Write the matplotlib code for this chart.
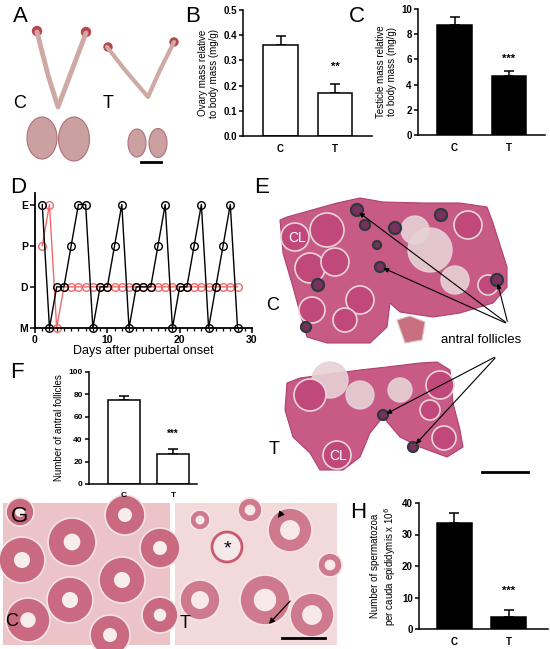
import matplotlib
matplotlib.use("Agg")
import matplotlib.pyplot as plt
from matplotlib.patches import Ellipse, Polygon, Circle

plt.rcParams["font.family"] = ["Liberation Sans", "DejaVu Sans"]

W, H = 550, 649

# ---- data ----
groups = ["C", "T"]

ovary_mean = [0.36, 0.172]
ovary_err = [0.038, 0.035]

testis_mean = [8.75, 4.7]
testis_err = [0.62, 0.36]

follicle_mean = [75, 26.5]
follicle_err = [4, 4.8]

sperm_mean = [33.5, 3.8]
sperm_err = [3.3, 2.3]

days = list(range(1, 29))
stage_labels = ["M", "D", "P", "E"]
# stage codes: 0=M, 1=D, 2=P, 3=E
cycle_control = [3, 0, 1, 1, 2, 3, 3, 0, 1, 1, 2, 3, 0, 1,
                 1, 1, 2, 3, 0, 1, 1, 2, 3, 0, 1, 2, 3, 0]
cycle_treated = [2, 3, 0] + [1] * 25


def px_axes(fig, x0, y0, x1, y1):
    """add axes from pixel box (y measured from top)"""
    return fig.add_axes([x0 / W, 1 - y1 / H, (x1 - x0) / W, (y1 - y0) / H])


def bar_panel(ax, means, errs, color, ylim, yticks, ylabel, stars, star_y,
              xlim, tick_fs=7, label_fs=7):
    x = [0, 1]
    ax.bar(x, means, width=0.64, color=color, edgecolor="black", linewidth=1.1, zorder=2)
    ax.errorbar(x, means, yerr=[[0, 0], errs], fmt="none", ecolor="black",
                elinewidth=1.1, capsize=3.6, capthick=1.1, zorder=1)
    ax.text(1, star_y, stars, ha="center", va="center", fontsize=tick_fs + 1, fontweight="bold")
    ax.set_xlim(*xlim)
    ax.set_ylim(*ylim)
    ax.set_yticks(yticks)
    ax.set_xticks(x)
    ax.set_xticklabels(groups, fontsize=tick_fs, fontweight="bold")
    for lab in ax.get_yticklabels():
        lab.set_fontsize(tick_fs)
        lab.set_fontweight("bold")
    ax.tick_params(axis="x", length=0, pad=6)
    ax.tick_params(axis="y", direction="out", length=3, width=1.1, pad=1.5)
    for s in ["top", "right"]:
        ax.spines[s].set_visible(False)
    for s in ["left", "bottom"]:
        ax.spines[s].set_linewidth(1.1)
    ax.set_ylabel(ylabel, fontsize=label_fs, labelpad=3, linespacing=1.15)
    ax.patch.set_alpha(0)


fig = plt.figure(figsize=(W / 100, H / 100), dpi=100)

# background canvas for photographic panels (pixel coordinates)
bg = fig.add_axes([0, 0, 1, 1])
bg.set_xlim(0, W)
bg.set_ylim(H, 0)
bg.set_axis_off()

# ---- panel A: gross morphology (schematic) ----
tube = "#cfa9a3"
bg.plot([37, 48, 58, 72, 86], [32, 75, 107, 70, 33], color=tube, lw=3.5, solid_capstyle="round")
bg.plot([107, 125, 148, 160, 174], [47, 70, 97, 70, 42], color=tube, lw=3, solid_capstyle="round")
for cx, cy, r in [(37, 31, 4.5), (86, 32, 4.5), (108, 47, 4), (174, 42, 4)]:
    bg.add_patch(Circle((cx, cy), r, color="#b8464e"))
for cx, cy, w, h in [(42, 138, 30, 42), (74, 139, 31, 44), (137, 143, 18, 28), (158, 143, 18, 29)]:
    bg.add_patch(Ellipse((cx, cy), w, h, facecolor="#caa0a0", edgecolor="#b0707a", lw=0.8))
bg.plot([141, 161], [162, 162], color="black", lw=2)
bg.text(20, 103, "C", fontsize=13, ha="center", va="center")
bg.text(108, 103, "T", fontsize=13, ha="center", va="center")

# ---- panel E: ovary sections (schematic) ----
ovary_c = [(280, 220), (287, 217), (337, 203), (360, 198), (383, 202), (423, 203), (460, 203),
           (487, 207), (493, 223), (507, 267), (507, 287), (493, 303), (460, 313), (433, 317),
           (400, 312), (390, 303), (387, 327), (370, 343), (327, 343), (307, 337), (300, 313),
           (293, 287), (283, 253)]
ovary_t = [(287, 383), (300, 378), (360, 370), (387, 367), (420, 363), (437, 362), (450, 370),
           (453, 403), (460, 430), (463, 447), (447, 457), (420, 447), (400, 437), (383, 417),
           (370, 433), (360, 457), (343, 470), (320, 470), (310, 453), (293, 437), (285, 410)]
bg.add_patch(Polygon(ovary_c, closed=True, facecolor="#c85a86", edgecolor="#b04070", lw=0.8))
bg.add_patch(Polygon(ovary_t, closed=True, facecolor="#c85a86", edgecolor="#b04070", lw=0.8))
bg.add_patch(Polygon([(397, 320), (410, 316), (425, 322), (422, 340), (405, 343)],
                     closed=True, facecolor="#c87080", edgecolor="#e0c0c0", lw=0.8))
pale = [(430, 250, 22), (415, 230, 14), (455, 280, 14), (330, 380, 18), (360, 395, 14), (400, 390, 12)]
for cx, cy, r in pale:
    bg.add_patch(Circle((cx, cy), r, color="#e6d2d6", alpha=0.9))
lobes = [(295, 237, 14), (327, 230, 17), (310, 268, 15), (335, 262, 14), (312, 310, 13),
         (360, 300, 14), (345, 320, 12), (468, 225, 14), (488, 285, 10), (310, 395, 16),
         (337, 455, 14), (440, 385, 14), (444, 438, 12), (430, 410, 10)]
for cx, cy, r in lobes:
    bg.add_patch(Circle((cx, cy), r, facecolor="#c0487a", edgecolor="#ead6d6", lw=1.2))
foll = [(357, 210, 6), (380, 267, 5), (497, 280, 6), (365, 225, 5), (395, 228, 6), (377, 245, 4),
        (441, 215, 6), (318, 285, 6), (306, 327, 5), (383, 415, 5), (413, 447, 5)]
for cx, cy, r in foll:
    bg.add_patch(Circle((cx, cy), r, facecolor="#7a3060", edgecolor="#2e3a3a", lw=1.6))
bg.text(297, 238, "CL", color="white", fontsize=10, ha="center", va="center")
bg.text(338, 456, "CL", color="white", fontsize=10, ha="center", va="center")
bg.text(273, 305, "C", fontsize=13, ha="center", va="center")
bg.text(274, 450, "T", fontsize=13, ha="center", va="center")
bg.text(481, 340, "antral follicles", fontsize=9.5, ha="center", va="center")
for (tx, ty), (hx, hy) in [((508, 324), (357, 211)), ((508, 324), (381, 267)), ((508, 324), (497, 281)),
                           ((497, 356), (384, 415)), ((497, 356), (414, 446))]:
    bg.annotate("", xy=(hx, hy), xytext=(tx, ty),
                arrowprops=dict(arrowstyle="-|>", color="black", lw=0.8, mutation_scale=7))
bg.plot([482, 528], [472, 472], color="black", lw=2)

# ---- panel G: testis sections (schematic) ----
bg.add_patch(Polygon([(3, 503), (170, 503), (170, 645), (3, 645)], closed=True, facecolor="#ecc4c8"))
bg.add_patch(Polygon([(175, 503), (337, 503), (337, 645), (175, 645)], closed=True, facecolor="#f2dada"))
tub_c = [(22, 560, 23), (72, 542, 24), (125, 515, 20), (160, 548, 20), (28, 620, 22), (70, 600, 23),
         (122, 580, 23), (110, 635, 20), (160, 615, 18), (20, 512, 14)]
for cx, cy, r in tub_c:
    bg.add_patch(Circle((cx, cy), r, facecolor="#c96a80", edgecolor="#f3e4e6", lw=1.2))
    bg.add_patch(Circle((cx, cy), r * 0.35, facecolor="#f7eded"))
tub_t = [(290, 530, 22), (265, 600, 25), (312, 615, 22), (200, 600, 20), (330, 565, 12), (250, 510, 12),
         (200, 520, 10)]
for cx, cy, r in tub_t:
    bg.add_patch(Circle((cx, cy), r, facecolor="#cf7a8c", edgecolor="#f7e6e8", lw=1.2))
    bg.add_patch(Circle((cx, cy), r * 0.45, facecolor="#f7e8ea"))
bg.add_patch(Circle((227, 547), 15, facecolor="#f5e8ea", edgecolor="#c85a70", lw=2))
bg.text(227, 549, "*", fontsize=14, ha="center", va="center")
bg.text(12, 622, "C", fontsize=13, ha="center", va="center")
bg.text(185, 624, "T", fontsize=13, ha="center", va="center")
bg.annotate("", xy=(267, 626), xytext=(292, 599),
            arrowprops=dict(arrowstyle="-|>", color="black", lw=0.9, mutation_scale=8))
bg.annotate("", xy=(276, 520), xytext=(284, 510),
            arrowprops=dict(arrowstyle="-|>", color="black", lw=0.6, mutation_scale=10))
bg.plot([282, 325], [638, 638], color="black", lw=2)

# ---- panel letters ----
for letter, lx, ly in [("A", 20, 17), ("B", 193, 16), ("C", 357, 16), ("D", 18, 188),
                       ("E", 262, 188), ("F", 17, 373), ("G", 20, 516), ("H", 358, 513)]:
    fig.text(lx / W, 1 - ly / H, letter, fontsize=16, ha="center", va="center")

# ---- panel B ----
axB = px_axes(fig, 243, 10, 372, 136)
bar_panel(axB, ovary_mean, ovary_err, "white", (0, 0.5), [0, 0.1, 0.2, 0.3, 0.4, 0.5],
          "Ovary mass relative\nto body mass (mg/g)", "**", 0.274, (-0.69, 1.68))
axB.set_yticklabels(["0.0", "0.1", "0.2", "0.3", "0.4", "0.5"])

# ---- panel C ----
axC = px_axes(fig, 418, 9, 545, 135)
bar_panel(axC, testis_mean, testis_err, "black", (0, 10), [0, 2, 4, 6, 8, 10],
          "Testicle mass relative\nto body mass (mg/g)", "***", 6.05, (-0.67, 1.66))

# ---- panel F ----
axF = px_axes(fig, 89, 372, 197, 484)
bar_panel(axF, follicle_mean, follicle_err, "white", (0, 100), [0, 20, 40, 60, 80, 100],
          "Number of antral follicles", "***", 45, (-0.71, 1.49), tick_fs=6, label_fs=7)

# ---- panel H ----
axH = px_axes(fig, 419, 503, 548, 629)
bar_panel(axH, sperm_mean, sperm_err, "black", (0, 40), [0, 10, 20, 30, 40],
          "Number of spermatozoa\nper cauda epididymis x 10$^6$", "***", 12, (-0.65, 1.72))

# ---- panel D: estrous cycle ----
axD = px_axes(fig, 35, 193, 252, 328)
axD.plot(days, cycle_treated, color="#f06a6a", lw=1, marker="o", ms=5.5, mfc="none",
         mec="#f06a6a", mew=1, clip_on=False, zorder=2)
axD.plot(days, cycle_control, color="black", lw=1, marker="o", ms=5.5, mfc="none",
         mec="black", mew=1, clip_on=False, zorder=3)
axD.set_xlim(0, 30)
axD.set_ylim(0, 3.28)
axD.set_yticks([0, 1, 2, 3])
axD.set_yticklabels(stage_labels, fontsize=7.5, fontweight="bold")
axD.set_xticks([0, 10, 20, 30])
axD.set_xticks(range(0, 31), minor=True)
axD.set_xticklabels(["0", "10", "20", "30"], fontsize=7.5, fontweight="bold")
axD.tick_params(axis="both", which="major", direction="out", length=3.5, width=1.1, pad=1.5)
axD.tick_params(axis="x", which="minor", direction="out", length=2, width=0.9)
for s in ["top", "right"]:
    axD.spines[s].set_visible(False)
for s in ["left", "bottom"]:
    axD.spines[s].set_linewidth(1.3)
axD.set_xlabel("Days after pubertal onset", fontsize=9, labelpad=0)
axD.patch.set_alpha(0)

fig.savefig("out.png", dpi=100)
